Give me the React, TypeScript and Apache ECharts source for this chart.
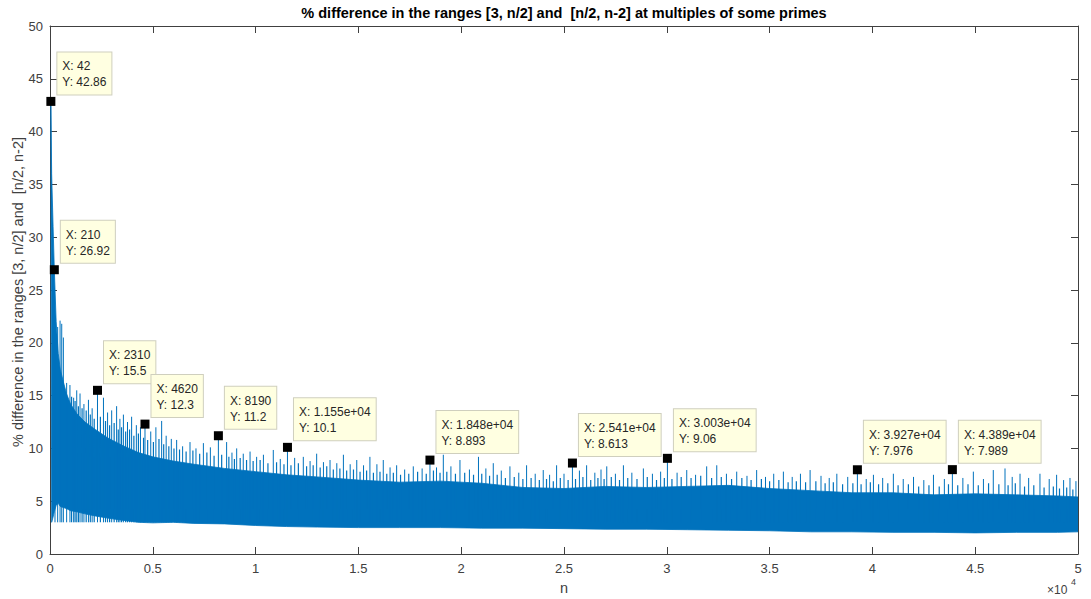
import React, { useEffect, useRef } from "react";
import * as echarts from "echarts";

// ---------- data ----------
const bandN = [42, 80, 150, 210, 300, 400, 500, 650, 800, 1000, 1300, 1700, 2200, 2800, 3500, 4300, 5000, 6000, 7000, 8500, 10000, 11500, 13000, 15000, 17000, 19000, 21000, 23000, 25000, 27000, 29000, 31000, 33000, 35000, 37000, 39000, 41000, 43000, 45000, 47000, 49000, 50000];
const bandHigh = [42.86, 36, 31, 26.92, 22, 19, 17.5, 16.3, 15.2, 14.2, 13.3, 12.5, 11.8, 11.0, 10.3, 9.6, 9.2, 8.8, 8.5, 8.1, 7.8, 7.5, 7.3, 7.0, 6.8, 6.9, 6.7, 6.3, 6.2, 6.4, 6.3, 6.4, 6.5, 6.2, 6.0, 5.8, 5.8, 5.6, 5.7, 5.6, 5.5, 5.4];
const bandLow = [42, 3.0, 3.5, 4.0, 4.6, 4.8, 4.5, 4.4, 4.3, 4.1, 4.0, 3.8, 3.6, 3.4, 3.2, 3.0, 2.95, 3.0, 2.9, 2.85, 2.7, 2.6, 2.55, 2.5, 2.5, 2.5, 2.45, 2.45, 2.4, 2.35, 2.35, 2.3, 2.25, 2.2, 2.1, 2.1, 2.05, 2.05, 2.0, 2.05, 2.05, 2.1];

// tall spikes above the dense band
const spikeN = [243, 373, 490, 570, 650, 810, 970, 1150, 1300, 1460, 1650, 1870, 2050, 2600, 2800, 3000, 3240, 3400, 3570, 3770, 3970, 4200, 4400, 4900, 5150, 5430, 5650, 5900, 6160, 6450, 6810, 7100, 7460, 7800, 8590, 8850, 9080, 9400, 9730, 10050, 10380, 10860, 11200, 11900, 12320, 12650, 12970, 13300, 13620, 13950, 14270, 14600, 14920, 15250, 15560, 15900, 16210, 16540, 16860, 17250, 17670, 18100, 18800, 19130, 19500, 19940, 20400, 20840, 21200, 21560, 21950, 22370, 22800, 23180, 23600, 23990, 24300, 24640, 25000, 25750, 26100, 26500, 26800, 27080, 27500, 27890, 28300, 28860, 29300, 29700, 30500, 30970, 31400, 31940, 32430, 32900, 33400, 33900, 34370, 34800, 35200, 35670, 36100, 36500, 36970, 37500, 37900, 38270, 38800, 39700, 40050, 40500, 41020, 41500, 42000, 42500, 42970, 43500, 44400, 44910, 45400, 45880, 46450, 46800, 47180, 47600, 48150, 48600, 48960, 49300, 49610, 49900];
const spikeY = [20.5, 21.5, 22.1, 21.8, 20.5, 16.2, 16.0, 14.8, 15.5, 15.2, 14.2, 14.6, 13.8, 14.8, 13.4, 13.6, 14.0, 12.8, 13.2, 12.5, 13.0, 12.2, 12.0, 11.6, 12.0, 12.6, 11.2, 10.9, 10.8, 10.2, 10.6, 10.0, 10.5, 10.1, 10.6, 9.6, 10.0, 9.5, 9.7, 9.2, 9.4, 9.85, 9.0, 9.1, 9.2, 8.8, 9.5, 8.7, 8.9, 8.6, 9.4, 8.5, 8.9, 8.4, 9.2, 8.5, 8.9, 8.2, 8.4, 8.0, 8.3, 8.1, 8.2, 9.4, 8.3, 8.9, 8.0, 9.2, 8.1, 8.6, 7.9, 8.3, 7.7, 8.4, 7.6, 7.95, 7.5, 8.4, 7.6, 7.9, 8.4, 7.7, 8.0, 8.3, 7.6, 8.4, 7.7, 8.1, 7.6, 7.8, 7.7, 7.95, 7.5, 8.3, 8.4, 7.6, 7.8, 7.4, 7.95, 7.3, 7.6, 7.8, 7.3, 7.6, 7.95, 7.4, 7.2, 7.6, 7.3, 7.1, 7.5, 7.2, 7.6, 7.1, 7.3, 7.0, 7.5, 7.1, 7.2, 7.8, 7.1, 7.95, 8.1, 7.3, 7.6, 7.2, 7.6, 7.1, 7.5, 7.0, 7.2, 6.9];

// smaller spikes forming the ragged top edge of the band
const minorN = [1050, 1220, 1380, 1560, 1760, 1960, 2150, 2450, 2700, 2900, 3120, 3320, 3480, 3680, 3870, 4080, 4300, 4550, 4750, 5030, 5300, 5530, 5780, 6030, 6300, 6620, 6950, 7280, 7630, 7980, 8350, 8700, 8970, 9250, 9560, 9880, 10220, 10600, 11020, 11380, 11720, 12080, 12480, 12800, 13140, 13460, 13780, 14100, 14430, 14760, 15080, 15400, 15730, 16050, 16380, 16700, 17050, 17450, 17880, 18300, 18650, 18970, 19300, 19720, 20170, 20600, 21000, 21380, 21750, 22150, 22580, 23000, 23400, 23800, 24150, 24480, 24820, 25200, 25560, 25920, 26300, 26650, 26950, 27300, 27700, 28100, 28550, 29050, 29500, 29880, 30250, 30700, 31180, 31650, 32180, 32650, 33150, 33650, 34100, 34600, 35000, 35450, 35900, 36300, 36750, 37250, 37700, 38100, 38550, 39050, 39450, 39900, 40300, 40750, 41250, 41750, 42250, 42750, 43250, 43700, 44150, 44650, 45150, 45650, 46150, 46600, 46950, 47400, 47850, 48350, 48800, 49100, 49450, 49750];
const minorY = [14.9, 14.5, 14.0, 13.8, 13.6, 13.2, 12.8, 13.0, 12.6, 12.2, 12.4, 11.8, 12.0, 11.6, 11.8, 11.2, 11.4, 11.0, 10.8, 10.6, 10.9, 10.4, 10.2, 10.0, 9.9, 9.7, 9.8, 9.5, 9.6, 9.3, 9.4, 9.2, 9.0, 9.1, 8.9, 8.8, 8.9, 8.6, 8.7, 8.5, 8.4, 8.6, 8.3, 8.4, 8.2, 8.3, 8.0, 8.1, 7.9, 8.0, 7.8, 7.9, 7.7, 7.8, 7.6, 7.7, 7.5, 7.6, 7.8, 7.6, 7.9, 7.7, 7.8, 7.6, 7.7, 7.5, 7.6, 7.4, 7.5, 7.2, 7.3, 7.1, 7.2, 7.0, 7.1, 6.9, 7.2, 7.0, 7.1, 7.3, 7.0, 7.2, 7.1, 7.3, 7.0, 7.2, 7.1, 7.3, 7.0, 7.2, 7.1, 7.3, 7.2, 7.4, 7.2, 7.3, 7.1, 7.2, 7.0, 7.1, 6.9, 7.0, 6.8, 6.9, 6.8, 6.9, 6.7, 6.8, 6.6, 6.7, 6.6, 6.8, 6.6, 6.7, 6.5, 6.6, 6.4, 6.5, 6.4, 6.6, 6.5, 6.6, 6.5, 6.7, 6.6, 6.5, 6.7, 6.4, 6.5, 6.3, 6.4, 6.2, 6.3, 6.1];

const tipN = [42, 210, 2310, 4620, 8190, 11550, 18480, 25410, 30030, 39270, 43890];
const tipY = [42.86, 26.92, 15.5, 12.3, 11.2, 10.1, 8.893, 8.613, 9.06, 7.976, 7.989];
const tipXLabel = ["42", "210", "2310", "4620", "8190", "1.155e+04", "1.848e+04", "2.541e+04", "3.003e+04", "3.927e+04", "4.389e+04"];
const tipYLabel = ["42.86", "26.92", "15.5", "12.3", "11.2", "10.1", "8.893", "8.613", "9.06", "7.976", "7.989"];

const xTickLabels = ["0", "0.5", "1", "1.5", "2", "2.5", "3", "3.5", "4", "4.5", "5"];

const TITLE = "% difference in the ranges [3, n/2] and  [n/2, n-2] at multiples of some primes";
const YNAME = "% difference in the ranges [3, n/2] and  [n/2, n-2]";
const XNAME = "n";
const SPIKE_BASE = 3;

// ---------- style ----------
const BLUE = "#0072BD";
const AX = "#404040";
const FONT = "'Liberation Sans', Arial, Helvetica, sans-serif";

function spikeData(ns: number[], ys: number[]) {
  const out: any[] = [];
  ns.forEach((n, i) => {
    out.push([n, SPIKE_BASE]);
    out.push([n, ys[i]]);
    out.push([n, "-"]);
  });
  return out;
}

export default function App() {
  const ref = useRef<HTMLDivElement>(null);
  useEffect(() => {
    if (!ref.current) return;
    const chart = echarts.init(ref.current, null, { renderer: "svg" });

    const axisCommonX = {
      type: "value",
      min: 0,
      max: 50000,
      interval: 5000,
      axisLine: { show: true, onZero: false, lineStyle: { color: AX, width: 1 } },
      axisTick: { show: true, inside: true, length: 7, lineStyle: { color: AX } },
      splitLine: { show: false },
    };
    const axisCommonY = {
      type: "value",
      min: 0,
      max: 50,
      interval: 5,
      axisLine: { show: true, onZero: false, lineStyle: { color: AX, width: 1 } },
      axisTick: { show: true, inside: true, length: 7, lineStyle: { color: AX } },
      splitLine: { show: false },
    };

    const spikeSeries = (data: any[], width: number) => ({
      type: "line",
      xAxisIndex: 0,
      yAxisIndex: 0,
      silent: true,
      symbol: "none",
      showSymbol: false,
      connectNulls: false,
      clip: true,
      data,
      lineStyle: { color: BLUE, width },
      itemStyle: { color: BLUE },
      z: 3,
    });

    const option: any = {
      animation: false,
      backgroundColor: "#ffffff",
      textStyle: { fontFamily: FONT },
      grid: { left: 50, right: 13, top: 26, bottom: 45, containLabel: false },
      xAxis: [
        {
          ...axisCommonX,
          position: "bottom",
          axisLabel: {
            color: AX,
            fontSize: 13,
            fontFamily: FONT,
            margin: 8,
            formatter: (v: number) => xTickLabels[Math.round(v / 5000)] ?? "",
          },
        },
        { ...axisCommonX, position: "top", axisLabel: { show: false } },
      ],
      yAxis: [
        {
          ...axisCommonY,
          position: "left",
          axisLabel: { color: AX, fontSize: 13, fontFamily: FONT, margin: 7 },
        },
        { ...axisCommonY, position: "right", axisLabel: { show: false } },
      ],
      graphic: [
        {
          type: "text",
          x: 564,
          y: 13,
          style: {
            text: TITLE,
            fill: "#000",
            font: `bold 14.5px ${FONT}`,
            textAlign: "center",
            textVerticalAlign: "middle",
          },
        },
        {
          type: "text",
          x: 18,
          y: 292,
          rotation: Math.PI / 2,
          style: {
            text: YNAME,
            fill: AX,
            font: `14.5px ${FONT}`,
            textAlign: "center",
            textVerticalAlign: "middle",
          },
        },
        {
          type: "text",
          x: 564,
          y: 588,
          style: { text: XNAME, fill: AX, font: `14.5px ${FONT}`, textAlign: "center", textVerticalAlign: "middle" },
        },
        {
          type: "text",
          x: 1047,
          y: 590,
          style: { text: "\u00d710", fill: AX, font: `12px ${FONT}`, textAlign: "left", textVerticalAlign: "middle" },
        },
        {
          type: "text",
          x: 1071,
          y: 582,
          style: { text: "4", fill: AX, font: `9px ${FONT}`, textAlign: "left", textVerticalAlign: "middle" },
        },
      ],
      series: [
        {
          type: "custom",
          xAxisIndex: 0,
          yAxisIndex: 0,
          silent: true,
          clip: true,
          data: [[0, 0]],
          renderItem: (_p: any, api: any) => {
            const top = bandN.map((n, i) => api.coord([n, bandHigh[i]]));
            const bot = bandN.map((n, i) => api.coord([n, bandLow[i]])).reverse();
            return {
              type: "polygon",
              shape: { points: top.concat(bot) },
              style: { fill: BLUE, stroke: BLUE, lineWidth: 0.8 },
            };
          },
          z: 2,
        },
        spikeSeries(spikeData(minorN, minorY), 1.2),
        spikeSeries(spikeData(spikeN, spikeY), 1),
        spikeSeries(spikeData(tipN.slice(2), tipY.slice(2)), 1),
        {
          type: "scatter",
          xAxisIndex: 0,
          yAxisIndex: 0,
          symbol: "rect",
          symbolSize: 9,
          itemStyle: { color: "#000", opacity: 1 },
          z: 10,
          data: tipN.map((n, i) => [n, tipY[i]]),
          label: {
            show: true,
            position: [11, -2.5],
            align: "left",
            verticalAlign: "bottom",
            formatter: (p: any) => `X: ${tipXLabel[p.dataIndex]}\nY: ${tipYLabel[p.dataIndex]}`,
            color: "#262626",
            fontSize: 12,
            fontFamily: FONT,
            lineHeight: 16,
            backgroundColor: "#FFFFE1",
            borderColor: "#CFCFBE",
            borderWidth: 1,
            padding: [6, 5, 4, 5],
          },
        },
      ],
    };
    chart.setOption(option);
    return () => chart.dispose();
  }, []);

  return (
    <div
      ref={ref}
      style={{ position: "fixed", left: 0, top: 0, width: 1091, height: 599, background: "#fff" }}
    />
  );
}
